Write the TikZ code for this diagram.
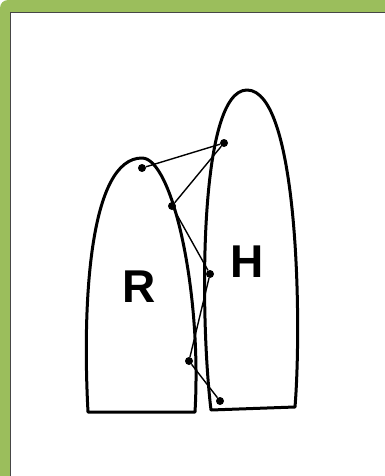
\documentclass[tikz,border=0pt]{standalone}
\usepackage{fontspec}
\setmainfont{Liberation Sans}
\definecolor{frameg}{RGB}{155,190,92}
\definecolor{frameline}{RGB}{70,70,70}
\tikzset{outline/.style={draw=black,line width=3pt,line join=round},
  link/.style={black,line width=1.4pt},
  dot/.style={circle,fill=black,inner sep=0pt,minimum size=8pt},
  lobe/.style={font=\bfseries\fontsize{46}{46}\selectfont,inner sep=0pt}}

\begin{document}
\begin{tikzpicture}[x=1pt, y=-1pt]
\useasboundingbox (0,0) rectangle (385,476);
\clip (0,0) rectangle (385,476);
% frame
\fill[frameg, rounded corners=8pt] (0,0) rectangle (420,520);
\filldraw[fill=white, draw=frameline, line width=1pt] (10,13) rectangle (420,520);
% the two lobes
\draw[outline] (88,412) .. controls (82,300) and (90,158) .. (142,158)
  .. controls (172,158) and (202,290) .. (195,412) -- cycle;
\draw[outline] (211,410) .. controls (200,320) and (198,90) .. (247,90)
  .. controls (298,90) and (302,320) .. (295,407) -- cycle;
\node[lobe, anchor=base] (r) at (139,302) {R};
\node[lobe, anchor=base] (h) at (247,277) {H};
% points and chain
\node[dot] (p1) at (142,168) {};
\node[dot] (p2) at (224,143) {};
\node[dot] (p3) at (172,206) {};
\node[dot] (p4) at (210,274) {};
\node[dot] (p5) at (189,361) {};
\node[dot] (p6) at (220,401) {};
\draw[link] (p1) -- (p2);
\draw[link] (p2) -- (p3);
\draw[link] (p3) -- (p4);
\draw[link] (p4) -- (p5);
\draw[link] (p5) -- (p6);
\end{tikzpicture}
\end{document}
